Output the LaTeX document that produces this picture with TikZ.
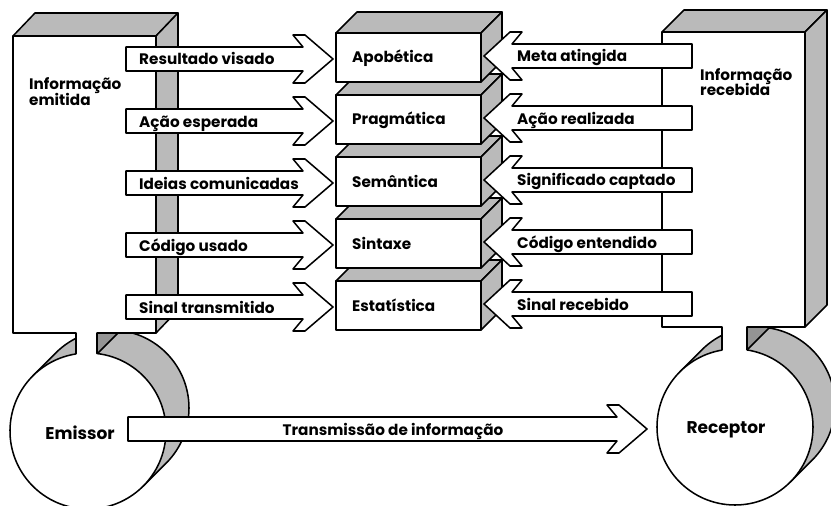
\documentclass[tikz,border=0pt]{standalone}
\usepackage{fontspec}
\setmainfont{Poppins}

\tikzset{
  face/.style={draw, fill=black!27, line width=1.3pt},
  frente/.style={draw, fill=white, line width=1.3pt},
  linha/.style={draw, line width=1.3pt},
  seta/.style={draw, fill=white, line width=1.3pt},
  rotulo/.style={font=\bfseries\fontsize{13}{15}\selectfont, inner sep=0pt},
  grande/.style={font=\bfseries\fontsize{14.5}{16}\selectfont, inner sep=0pt},
}

% seta larga para a direita: corpo de #1 a #2, centro #3
\newcommand{\setadir}[3]{%
  \draw[seta] (#1,#3-12) -- (#2,#3-12) -- (#2-10,#3-24) -- (#2+2,#3-24) -- (#2+30,#3)
    -- (#2+2,#3+24) -- (#2-10,#3+24) -- (#2,#3+12) -- (#1,#3+12) -- cycle;}
% seta larga para a esquerda
\newcommand{\setaesq}[3]{%
  \draw[seta] (#1,#3-12) -- (#2,#3-12) -- (#2+10,#3-24) -- (#2-2,#3-24) -- (#2-28,#3)
    -- (#2-2,#3+24) -- (#2+10,#3+24) -- (#2,#3+12) -- (#1,#3+12) -- cycle;}
% bloco do meio, topo da face da frente em #1
\newcommand{\bloco}[1]{%
  \draw[face] (336,#1) -- (357,#1-21) -- (502,#1-21) -- (481,#1) -- cycle;
  \draw[face] (481,#1) -- (502,#1-21) -- (502,#1+28) -- (481,#1+49) -- cycle;
  \draw[frente] (336,#1) rectangle (481,#1+49);}

\begin{document}
\begin{tikzpicture}[line cap=round,line join=round,x=0.03cm,y=-0.03cm]
\useasboundingbox (0,0) rectangle (831,506);
\fill[white] (0,0) rectangle (831,506);

% emissor
\fill[black!27] (32.85,375.85) -- (55.85,352.85) -- (166.15,463.15) -- (143.15,486.15) -- cycle;
\fill[black!27] (111,408) circle[radius=78];
\draw[linha] ([shift={(225:78)}]111,408) arc[start angle=225, end angle=405, radius=78];
\draw[linha] ([shift={(225:78)}]88,431) -- ([shift={(225:78)}]111,408);
\draw[linha] ([shift={(45:78)}]88,431) -- ([shift={(45:78)}]111,408);
\draw[face, fill=black!42] (97,333) -- (97,354) -- (120,331) -- (120,310) -- cycle;
\draw[face] (13,36) -- (35,13) -- (178,13) -- (156,36) -- cycle;
\draw[face] (156,36) -- (178,13) -- (178,310) -- (156,333) -- cycle;
\draw[frente] (13,36) -- (156,36) -- (156,333) -- (97,333) -- (97,353.52)
  arc[start angle=-83.37, end angle=261.15, radius=78] -- (76,333) -- (13,333) -- cycle;

% receptor
\fill[black!27] (679.85,371.85) -- (701.85,349.85) -- (812.15,460.15) -- (790.15,482.15) -- cycle;
\fill[black!27] (757,405) circle[radius=78];
\draw[linha] ([shift={(225:78)}]757,405) arc[start angle=225, end angle=405, radius=78];
\draw[linha] ([shift={(225:78)}]735,427) -- ([shift={(225:78)}]757,405);
\draw[linha] ([shift={(45:78)}]735,427) -- ([shift={(45:78)}]757,405);
\draw[face, fill=black!42] (747,327) -- (747,350) -- (769,328) -- (769,305) -- cycle;
\draw[face] (662,32) -- (684,10) -- (827,10) -- (805,32) -- cycle;
\draw[face] (805,32) -- (827,10) -- (827,305) -- (805,327) -- cycle;
\draw[frente] (662,32) -- (805,32) -- (805,327) -- (747,327) -- (747,349.93)
  arc[start angle=-81.15, end angle=260.4, radius=78] -- (722,327) -- (662,327) -- cycle;

% niveis, de baixo para cima
\foreach \i/\niv in {4/Estatística, 3/Sintaxe, 2/Semântica, 1/Pragmática, 0/Apobética}{
  \pgfmathsetmacro\t{33+62*\i}
  \bloco{\t}
  \node[rotulo, anchor=base west] (nivel\i) at (352,\t+30) {\niv};
}

% setas do emissor
\foreach \i/\rot in {0/Resultado visado, 1/Ação esperada, 2/Ideias comunicadas, 3/Código usado, 4/Sinal transmitido}{
  \pgfmathsetmacro\c{59+62*\i}
  \setadir{126}{303}{\c}
  \node[rotulo, anchor=base west] (env\i) at (139,\c+6) {\rot};
}

% setas do receptor
\foreach \i/\rot in {0/Meta atingida, 1/Ação realizada, 2/Significado captado, 3/Código entendido, 4/Sinal recebido}{
  \pgfmathsetmacro\c{56+62*\i}
  \setaesq{692}{512}{\c}
  \node[rotulo, anchor=base west] (rec\i) at (517,\c+6) {\rot};
}

\setadir{128}{617}{429}
\node[rotulo, anchor=base] (trans) at (393,435) {Transmissão de informação};

\node[rotulo, anchor=base west] (infoE1) at (29,90) {Informação};
\node[rotulo, anchor=base west] (infoE2) at (29,105) {emitida};
\node[rotulo, anchor=base west] (infoR1) at (700,81) {Informação};
\node[rotulo, anchor=base west] (infoR2) at (700,96) {recebida};
\node[grande, anchor=base] (emissor) at (80,439) {Emissor};
\node[grande, anchor=base] (receptor) at (726,433) {Receptor};
\end{tikzpicture}
\end{document}
